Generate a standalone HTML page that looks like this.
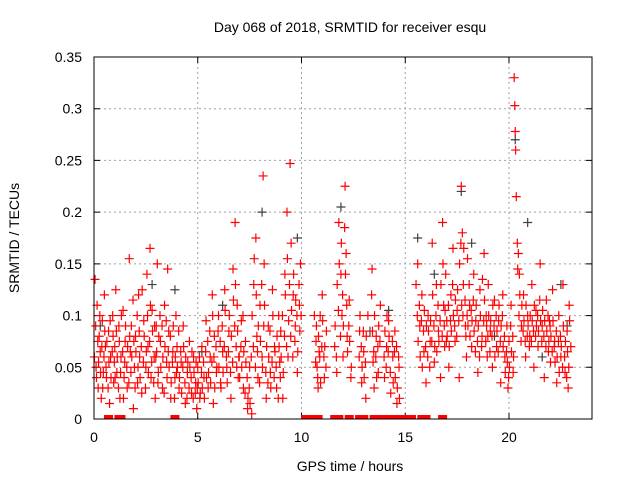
<!DOCTYPE html>
<html><head><meta charset="utf-8"><style>
body{margin:0;background:#fff}
svg{display:block;font-family:"Liberation Sans",sans-serif}
</style></head><body>
<svg id="chart" width="640" height="480">
<rect width="640" height="480" fill="#fff"/>
<text x="350" y="32" text-anchor="middle" font-size="14">Day 068 of 2018, SRMTID for receiver esqu</text>
<text x="350" y="471" text-anchor="middle" font-size="14">GPS time / hours</text>
<text transform="translate(19,238) rotate(-90)" text-anchor="middle" font-size="14">SRMTID / TECUs</text>
<g id="grid"></g>
<g id="ticks"></g>
<g id="gray"></g>
<g id="red"></g>
<rect x="94" y="57" width="498" height="362" fill="none" stroke="#000" stroke-width="1"/>
</svg>
<script>
const xTicks=[0,5,10,15,20];
const yTicks=[0,0.05,0.1,0.15,0.2,0.25,0.3,0.35];
const yTickLabels=["0","0.05","0.1","0.15","0.2","0.25","0.3","0.35"];
const redPoints=[[0.05,.135],[0.1,.05],[0.15,.11],[0.2,.03],[0.25,.08],[0.3,.065],[0.35,.02],[0.4,.095],[0.45,.045],[0.5,.12],[0.55,.07],[0.6,.04],[0.7,.085],[0.75,.015],[0.8,.06],[0.9,.1],[0.95,.035],
[1.0,.07],[1.05,.125],[1.1,.045],[1.2,.09],[1.25,.02],[1.3,.06],[1.4,.105],[1.45,.04],[1.5,.075],[1.6,.03],[1.7,.155],[1.75,.065],[1.8,.09],[1.9,.01],[1.95,.05],
[2.0,.08],[2.1,.035],[2.15,.12],[2.2,.06],[2.3,.025],[2.4,.095],[2.5,.05],[2.55,.14],[2.6,.07],[2.7,.165],[2.75,.04],[2.8,.105],[2.9,.06],[2.95,.02],
[3.0,.09],[3.05,.15],[3.1,.045],[3.2,.075],[3.3,.03],[3.4,.11],[3.5,.055],[3.55,.145],[3.6,.085],[3.7,.02],[3.8,.065],[3.9,.04],[3.95,.1],
[4.0,.07],[4.1,.03],[4.2,.055],[4.3,.09],[4.4,.015],[4.5,.045],[4.6,.075],[4.7,.025],[4.8,.06],[4.9,.035],[4.95,.01],
[5.0,.05],[5.1,.02],[5.2,.07],[5.3,.04],[5.4,.095],[5.5,.03],[5.6,.06],[5.7,.12],[5.75,.015],[5.8,.08],[5.9,.045],
[6.0,.1],[6.1,.035],[6.2,.065],[6.3,.125],[6.4,.05],[6.5,.085],[6.6,.02],[6.7,.145],[6.8,.19],[6.85,.07],[6.9,.11],[6.95,.04],
[7.0,.06],[7.1,.095],[7.2,.03],[7.3,.075],[7.4,.01],[7.5,.05],[7.6,.005],[7.7,.13],[7.8,.175],[7.85,.08],[7.9,.04],
[8.0,.11],[8.1,.06],[8.15,.235],[8.2,.15],[8.3,.02],[8.4,.09],[8.5,.045],[8.6,.125],[8.7,.07],[8.8,.03],[8.9,.1],[8.95,.055],
[9.0,.085],[9.1,.02],[9.2,.14],[9.3,.2],[9.35,.06],[9.45,.247],[9.5,.17],[9.6,.12],[9.7,.09],[9.8,.045],[9.9,.11],[9.95,.15],
[10.7,.075],[10.75,.05],[10.8,.03],[10.85,.065],[10.9,.1],[11.0,.12],[11.1,.04],[11.2,.085],[11.6,.07],[11.7,.045],[11.8,.19],[11.9,.14],[11.95,.1],[12.0,.06],[12.1,.225],[12.15,.16],[12.2,.08],[12.3,.115],[12.4,.05],[12.8,.085],[12.9,.035],[13.0,.065],[13.1,.02],[13.2,.1],[13.4,.145],[13.45,.055],[13.5,.03],[13.6,.08],[13.7,.045],[13.8,.11],[14.0,.04],[14.1,.07],[14.2,.095],[14.3,.025],[14.4,.06],[14.5,.085],[14.6,.015],[14.7,.05],
[15.6,.15],[15.7,.09],[15.8,.12],[15.9,.065],
[16.0,.035],[16.1,.1],[16.2,.075],[16.3,.17],[16.4,.055],[16.5,.13],[16.6,.085],[16.7,.04],[16.8,.19],[16.85,.11],[16.9,.07],[16.95,.14],
[17.0,.095],[17.1,.05],[17.2,.12],[17.3,.165],[17.4,.075],[17.5,.105],[17.6,.04],[17.7,.225],[17.75,.18],[17.8,.13],[17.9,.09],[17.95,.06],
[18.0,.155],[18.1,.11],[18.2,.07],[18.3,.14],[18.4,.095],[18.5,.045],[18.6,.125],[18.7,.08],[18.8,.16],[18.9,.1],[18.95,.06],
[19.0,.13],[19.1,.085],[19.2,.05],[19.3,.115],[19.4,.07],[19.5,.095],[19.6,.035],[19.7,.12],[19.8,.06],[19.9,.09],[19.95,.03],
[20.0,.075],[20.1,.11],[20.2,.045],[20.25,.33],[20.28,.303],[20.3,.278],[20.32,.26],[20.35,.215],[20.4,.17],[20.5,.14],[20.6,.09],[20.7,.12],[20.8,.06],[20.9,.1],
[21.0,.08],[21.1,.13],[21.2,.05],[21.3,.105],[21.4,.07],[21.5,.15],[21.6,.09],[21.7,.04],[21.8,.115],[21.9,.065],[21.95,.095],
[22.0,.055],[22.1,.125],[22.2,.075],[22.3,.035],[22.4,.1],[22.5,.06],[22.6,.13],[22.7,.045],[22.8,.085],[22.85,.03],[22.9,.11]];
const redExtra=[[0.02,.06],[0.08,.09],[0.12,.04],[0.18,.075],[0.22,.055],[0.28,.1],[0.32,.045],[0.38,.07],[0.42,.03],[0.48,.06],[0.52,.085],[0.58,.05],[0.62,.075],[0.68,.03],[0.72,.055],[0.78,.095],[0.82,.04],[0.88,.065],[0.92,.08],[0.98,.055],
[1.02,.04],[1.08,.085],[1.12,.06],[1.18,.03],[1.22,.075],[1.28,.045],[1.32,.1],[1.38,.065],[1.42,.02],[1.48,.055],[1.52,.09],[1.58,.05],[1.62,.07],[1.68,.035],[1.72,.08],[1.78,.045],[1.82,.06],[1.88,.115],[1.92,.075],[1.98,.03],
[2.02,.065],[2.08,.1],[2.12,.05],[2.18,.085],[2.22,.04],[2.28,.07],[2.32,.125],[2.38,.055],[2.42,.08],[2.48,.03],[2.52,.065],[2.58,.1],[2.62,.045],[2.68,.075],[2.72,.11],[2.78,.055],[2.82,.085],[2.88,.035],[2.92,.09],[2.98,.06],
[3.02,.065],[3.08,.035],[3.12,.08],[3.18,.1],[3.22,.05],[3.28,.09],[3.32,.06],[3.38,.025],[3.42,.07],[3.48,.095],[3.52,.04],[3.58,.065],[3.62,.05],[3.68,.08],[3.72,.035],[3.78,.055],[3.82,.09],[3.88,.02],[3.92,.06],[3.98,.045],
[4.02,.05],[4.08,.085],[4.12,.04],[4.18,.065],[4.22,.025],[4.28,.05],[4.32,.07],[4.38,.035],[4.42,.06],[4.48,.02],[4.52,.055],[4.58,.03],[4.62,.05],[4.68,.04],[4.72,.065],[4.78,.02],[4.82,.045],[4.88,.025],[4.92,.055],[4.98,.03],
[5.02,.035],[5.08,.06],[5.12,.025],[5.18,.045],[5.22,.03],[5.28,.055],[5.32,.02],[5.38,.065],[5.42,.04],[5.48,.075],[5.52,.045],[5.58,.085],[5.62,.035],[5.68,.055],[5.72,.1],[5.78,.06],[5.82,.03],[5.88,.07],[5.92,.05],[5.98,.085],
[6.02,.05],[6.08,.075],[6.12,.03],[6.18,.09],[6.22,.045],[6.28,.07],[6.32,.105],[6.38,.06],[6.42,.035],[6.48,.065],[6.52,.1],[6.58,.045],[6.62,.08],[6.68,.055],[6.72,.115],[6.78,.09],[6.82,.13],[6.88,.05],[6.92,.085],[6.98,.06],
[7.02,.04],[7.08,.07],[7.12,.05],[7.18,.1],[7.22,.065],[7.28,.025],[7.32,.055],[7.38,.04],[7.42,.02],[7.48,.03],[7.52,.015],[7.58,.06],[7.62,.1],[7.68,.07],[7.72,.155],[7.78,.05],[7.82,.12],[7.88,.065],[7.92,.09],[7.98,.035],
[8.02,.075],[8.08,.13],[8.12,.05],[8.18,.09],[8.22,.11],[8.28,.045],[8.32,.07],[8.38,.035],[8.42,.06],[8.48,.085],[8.52,.03],[8.58,.055],[8.62,.1],[8.68,.04],[8.72,.065],[8.78,.05],[8.82,.08],[8.88,.02],[8.92,.07],[8.98,.04],
[9.02,.06],[9.08,.1],[9.12,.045],[9.18,.08],[9.22,.12],[9.28,.07],[9.32,.155],[9.38,.095],[9.42,.13],[9.48,.08],[9.52,.105],[9.58,.06],[9.62,.14],[9.68,.075],[9.72,.115],[9.78,.1],[9.82,.065],[9.88,.13],[9.92,.085],[9.98,.1],
[10.62,.1],[10.68,.055],[10.72,.09],[10.78,.04],[10.82,.08],[10.88,.06],[10.92,.035],[10.98,.07],[11.02,.095],[11.08,.06],[11.12,.07],[11.18,.05],[11.62,.09],[11.68,.06],[11.72,.13],[11.78,.105],[11.82,.15],[11.88,.08],[11.92,.17],[11.98,.12],[12.02,.09],[12.08,.185],[12.12,.14],[12.18,.11],[12.22,.065],[12.28,.09],[12.32,.075],[12.38,.04],
[12.78,.06],[12.82,.1],[12.88,.07],[12.92,.05],[12.98,.085],[13.02,.04],[13.08,.055],[13.12,.08],[13.38,.12],[13.42,.085],[13.48,.065],[13.52,.1],[13.58,.06],[13.62,.04],[13.68,.07],[13.72,.09],[13.78,.075],[13.98,.06],[14.02,.085],[14.08,.05],[14.12,.1],[14.18,.065],[14.22,.08],[14.28,.045],[14.38,.075],[14.42,.035],[14.48,.065],[14.52,.04],[14.58,.07],[14.62,.03],[14.68,.06],[14.72,.02],
[15.52,.13],[15.58,.1],[15.62,.075],[15.68,.11],[15.72,.06],[15.78,.095],[15.82,.05],[15.88,.085],[15.92,.105],[15.98,.07],
[16.02,.09],[16.08,.06],[16.12,.085],[16.18,.05],[16.22,.095],[16.28,.075],[16.32,.12],[16.38,.09],[16.42,.07],[16.48,.1],[16.52,.065],[16.58,.11],[16.62,.075],[16.68,.095],[16.72,.13],[16.78,.08],[16.82,.15],[16.88,.09],[16.92,.105],[16.98,.075],
[17.02,.08],[17.08,.11],[17.12,.07],[17.18,.095],[17.22,.085],[17.28,.13],[17.32,.1],[17.38,.09],[17.42,.115],[17.48,.08],[17.52,.125],[17.58,.095],[17.62,.15],[17.68,.17],[17.72,.11],[17.78,.1],[17.82,.165],[17.88,.115],[17.92,.08],[17.98,.1],
[18.02,.09],[18.08,.13],[18.12,.08],[18.18,.105],[18.22,.095],[18.28,.115],[18.32,.085],[18.38,.065],[18.42,.11],[18.48,.075],[18.52,.09],[18.58,.06],[18.62,.1],[18.68,.07],[18.72,.135],[18.78,.095],[18.82,.115],[18.88,.075],[18.92,.09],[18.98,.08],
[19.02,.1],[19.08,.065],[19.12,.095],[19.18,.08],[19.22,.11],[19.28,.09],[19.32,.06],[19.38,.1],[19.42,.085],[19.48,.065],[19.52,.11],[19.58,.075],[19.62,.09],[19.68,.1],[19.72,.07],[19.78,.08],[19.82,.045],[19.88,.065],[19.92,.055],[19.98,.04],
[20.02,.05],[20.08,.09],[20.12,.065],[20.18,.08],[20.22,.06],[20.42,.145],[20.45,.16],[20.48,.1],[20.52,.12],[20.58,.075],[20.62,.11],[20.68,.085],[20.72,.095],[20.78,.075],[20.82,.11],[20.88,.08],[20.92,.09],[20.98,.07],
[21.02,.1],[21.08,.075],[21.12,.095],[21.18,.085],[21.22,.11],[21.28,.08],[21.32,.09],[21.38,.1],[21.42,.085],[21.48,.115],[21.52,.095],[21.58,.075],[21.62,.105],[21.68,.08],[21.72,.095],[21.78,.07],[21.82,.085],[21.88,.1],[21.92,.075],[21.98,.09],
[22.02,.08],[22.08,.065],[22.12,.095],[22.18,.07],[22.22,.055],[22.28,.085],[22.32,.06],[22.38,.075],[22.42,.045],[22.48,.08],[22.52,.07],[22.58,.05],[22.62,.09],[22.68,.06],[22.72,.075],[22.78,.04],[22.82,.065],[22.88,.05],[22.92,.095],[22.98,.07]];
const grayPoints=[[0.3,.09],[2.8,.13],[3.9,.125],[5.2,.065],[6.2,.11],[8.1,.2],[9.8,.175],[11.9,.205],[13.3,.085],[14.2,.105],[15.6,.175],[16.4,.14],[17.7,.22],[18.2,.17],[19.3,.08],[20.3,.27],[20.9,.19],[21.6,.06],[22.5,.13],[22.8,.09]];
const zeroHours=[0.7,1.2,1.3,3.9,10.2,10.5,10.6,10.8,11.6,11.8,12.3,12.8,12.9,13.0,13.5,13.9,14.3,14.7,14.9,15.0,15.1,15.3,15.8,16.0,16.8];

const X0=94,X1=592,Y0=419,Y1=57,XMAX=24,YMAX=0.35;
const sx=t=>X0+(t/XMAX)*(X1-X0);
const sy=v=>Y0-(v/YMAX)*(Y0-Y1);
const NS="http://www.w3.org/2000/svg";
function mk(tag,attrs,parent){const e=document.createElementNS(NS,tag);for(const k in attrs)e.setAttribute(k,attrs[k]);parent.appendChild(e);return e;}
const grid=document.getElementById('grid'),ticks=document.getElementById('ticks');
xTicks.forEach(t=>{const x=sx(t);
 if(t>0){const g=mk('line',{x1:x,x2:x,y1:Y1,y2:Y0,stroke:'#a0a0a0','stroke-dasharray':'2,3'},grid);
 
 }
 const tk=mk('path',{d:`M${x},${Y0}v-6M${x},${Y1}v6`,stroke:'#000'},ticks);
 
 
 const l=mk('text',{x:x,y:Y0+23,'text-anchor':'middle','font-size':'14'},ticks);l.textContent=t;
 
 });
yTicks.forEach((v,i)=>{const y=sy(v);
 if(v>0&&v<YMAX){const g=mk('line',{x1:X0,x2:X1,y1:y,y2:y,stroke:'#a0a0a0','stroke-dasharray':'2,3'},grid);
 
 }
 const tk=mk('path',{d:`M${X0},${y}h6M${X1},${y}h-6`,stroke:'#000'},ticks);
 
 
 const l=mk('text',{x:X0-12,y:y+5,'text-anchor':'end','font-size':'14'},ticks);l.textContent=yTickLabels[i];
 
 });
function plus(p,color,parent,name){const x=sx(p[0]),y=sy(p[1]);
 const e=mk('path',{d:`M${x-4.5},${y}h9M${x},${y-4.5}v9`,stroke:color,'stroke-width':'1.2'},parent);
 
 }
const gG=document.getElementById('gray'),gR=document.getElementById('red');
grayPoints.forEach(p=>plus(p,'#404040',gG,'gray-point'));
redPoints.forEach(p=>plus(p,'#ff0000',gR,'red-point'));
redExtra.forEach(p=>plus(p,'#ff0000',gR,'red-point'));
zeroHours.forEach(t=>{const e=mk('rect',{x:sx(t)-4.5,y:Y0-4,width:9,height:4,fill:'#ff0000'},gR);
 
 });
</script>
</body></html>
